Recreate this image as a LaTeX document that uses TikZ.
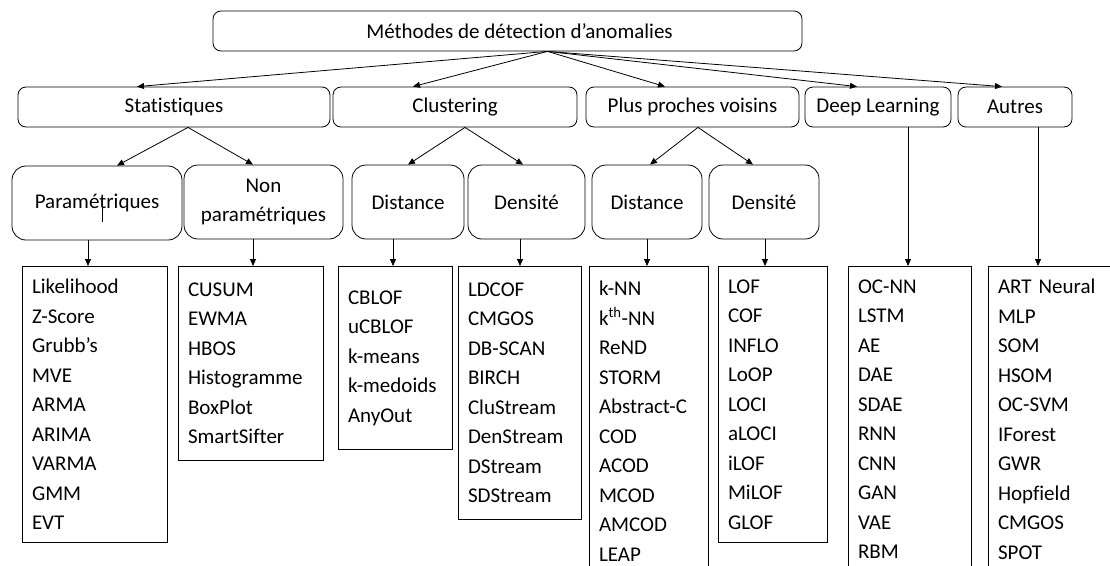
\documentclass[tikz,border=0pt]{standalone}
\usepackage{fontspec}
\setmainfont{Carlito}[Ligatures=CommonOff]
\usetikzlibrary{arrows.meta}
\exhyphenpenalty=10000
\hyphenpenalty=10000

\begin{document}
\begin{tikzpicture}[x=1pt, y=-1pt, line width=0.8pt,
            every node/.style={font=\fontsize{21}{29.5}\selectfont},
            box/.style={draw, rounded corners=8pt, minimum height=40pt, inner sep=0pt},
            sub/.style={draw, rounded corners=14pt, minimum height=74pt, align=center, inner sep=0pt},
            lst/.style={draw, anchor=north, align=left, inner xsep=10pt, inner ysep=0pt},
            >={Triangle[length=7pt,width=6pt]}]
            \useasboundingbox (0,0) rectangle (1110,565);
            \clip (0,0) rectangle (1110,565);

            \node[box, minimum width=589pt] (top) at (507.5,31) {\hspace{24pt}Méthodes de détection d’anomalies};
            \coordinate (hub) at ([xshift=40pt]top.south);

            \node[box, minimum width=312pt] (stat) at (174,107) {Statistiques};
            \node[box, minimum width=244pt] (clus) at (455,107) {Clustering};
            \node[box, minimum width=213pt] (ppv) at (692.5,107) {Plus proches voisins};
            \node[box, minimum width=146pt] (deep) at (878,107) {Deep Learning};
            \node[box, minimum width=114pt] (autres) at (1015,107) {Autres};

            \node[sub, minimum width=170pt] (param) at (97,203) {Paramétriques};
            \node[sub, minimum width=159pt] (nonparam) at (263.5,202) {Non\\paramétriques};
            \node[sub, minimum width=112pt] (cdist) at (408,202) {Distance};
            \node[sub, minimum width=117pt] (cdens) at (526.5,202) {Densité};
            \node[sub, minimum width=110pt] (pdist) at (647,202) {Distance};
            \node[sub, minimum width=110pt] (pdens) at (764,202) {Densité};

            \node[lst, text width=125pt, minimum height=276pt] (l1) at (94.5,266)
                {Likelihood\\Z-Score\\Grubb’s\\MVE\\ARMA\\ARIMA\\VARMA\\GMM\\EVT};
            \node[lst, text width=125pt, minimum height=194pt] (l2) at (250.5,266)
                {CUSUM\\EWMA\\HBOS\\Histogramme\\BoxPlot\\SmartSifter};
            \node[lst, text width=94pt, minimum height=183pt] (l3) at (395,266)
                {CBLOF\\uCBLOF\\k-means\\k-medoids\\AnyOut};
            \node[lst, text width=103pt, minimum height=253pt] (l4) at (519.5,266)
                {LDCOF\\CMGOS\\DB-SCAN\\BIRCH\\CluStream\\DenStream\\DStream\\SDStream};
            \node[lst, text width=99pt, minimum height=310pt] (l5) at (648.5,266)
                {k-NN\\k\textsuperscript{th}-NN\\ReND\\STORM\\Abstract-C\\COD\\ACOD\\MCOD\\AMCOD\\LEAP};
            \node[lst, text width=89pt, minimum height=276pt] (l6) at (772.5,266)
                {LOF\\COF\\INFLO\\LoOP\\LOCI\\aLOCI\\iLOF\\MiLOF\\GLOF};
            \node[lst, text width=103pt, minimum height=306pt] (l7) at (909.5,266)
                {OC-NN\\LSTM\\AE\\DAE\\SDAE\\RNN\\CNN\\GAN\\VAE\\RBM};
            \node[lst, text width=122pt, minimum height=306pt] (l8) at (1059,266)
                {ART Neural\\MLP\\SOM\\HSOM\\OC-SVM\\IForest\\GWR\\Hopfield\\CMGOS\\SPOT};

            % racine vers familles
            \draw[->] (hub) to ([xshift=-37pt]stat.north);
            \draw[->] (hub) to ([xshift=-42pt]clus.north);
            \draw[->] (hub) to ([xshift=-27.5pt]ppv.north);
            \draw[->] (hub) to ([xshift=-21pt]deep.north);
            \draw[->] (hub) to ([xshift=-13pt]autres.north);

            % familles vers sous-familles
            \draw[->] ([xshift=14pt]stat.south) to ([xshift=20pt]param.north);
            \draw[->] ([xshift=14pt]stat.south) to ([xshift=-10.5pt]nonparam.north);
            \draw[->] ([xshift=10pt]clus.south) to (cdist.north);
            \draw[->] ([xshift=10pt]clus.south) to ([xshift=-3.5pt]cdens.north);
            \draw[->] ([xshift=5.5pt]ppv.south) to ([xshift=3pt]pdist.north);
            \draw[->] ([xshift=5.5pt]ppv.south) to ([xshift=-11pt]pdens.north);

            % vers les listes
            \draw[->] ([xshift=-9pt]param.south) to ([xshift=-9pt]param.south |- l1.north);
            \draw[->] ([xshift=-10.5pt]nonparam.south) to ([xshift=-10.5pt]nonparam.south |- l2.north);
            \draw[->] ([xshift=-15pt]cdist.south) to ([xshift=-15pt]cdist.south |- l3.north);
            \draw[->] ([xshift=-6.5pt]cdens.south) to ([xshift=-6.5pt]cdens.south |- l4.north);
            \draw[->] (pdist.south) to (pdist.south |- l5.north);
            \draw[->] ([xshift=1pt]pdens.south) to ([xshift=1pt]pdens.south |- l6.north);
            \draw[->] ([xshift=30pt]deep.south) to ([xshift=30pt]deep.south |- l7.north);
            \draw[->] ([xshift=23pt]autres.south) to ([xshift=23pt]autres.south |- l8.north);

            \draw[line width=0.6pt] ([shift={(5,5)}]param.center) to ++(0,14);
\end{tikzpicture}
\end{document}
